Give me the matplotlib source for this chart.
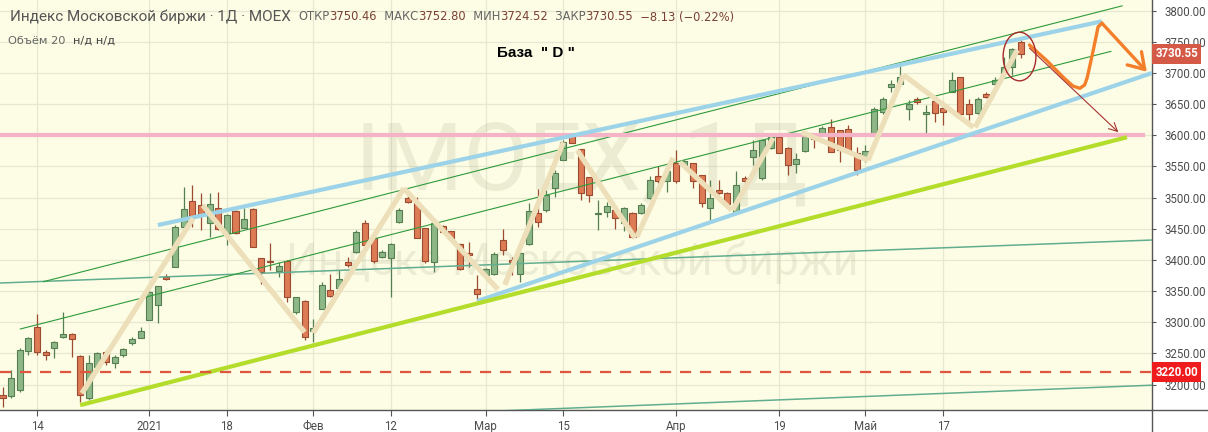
import matplotlib
matplotlib.use("Agg")
import matplotlib.pyplot as plt
import matplotlib.transforms as mtransforms
from matplotlib.patches import Ellipse, FancyArrowPatch
from matplotlib.lines import Line2D
import numpy as np

plt.rcParams['font.family'] = ['Roboto', 'DejaVu Sans']

# ---------------- data (daily candles, IMOEX) ----------------
opens = [3183, 3182, 3192, 3254, 3292, 3252, 3258, 3276, 3281, 3246,
         3178, 3229, 3252, 3234, 3247, 3267, 3274, 3304, 3328, 3373,
         3388, 3453, 3495, 3488, 3460, 3484, 3443, 3478, 3452, 3481,
         3403, 3398, 3383, 3398, 3317, 3334, 3286, 3322, 3352, 3355,
         3396, 3412, 3460, 3435, 3404, 3403, 3461, 3500, 3491, 3451,
         3397, 3454, 3446, 3426, 3411, 3353, 3376, 3378, 3432, 3400,
         3377, 3425, 3476, 3480, 3515, 3561, 3599, 3578, 3533, 3473,
         3477, 3480, 3459, 3476, 3475, 3499, 3534, 3526, 3556, 3552,
         3555, 3536, 3483, 3512, 3508, 3477, 3532, 3566, 3531, 3579,
         3598, 3580, 3554, 3575, 3597, 3603, 3614, 3609, 3610, 3572,
         3563, 3603, 3638, 3678, 3683, 3643, 3658, 3634, 3655, 3644,
         3670, 3693, 3650, 3636, 3666, 3682, 3700, 3709, 3750.46]
highs = [3196, 3223, 3258, 3277, 3313, 3255, 3270, 3317, 3282, 3247,
         3247, 3253, 3255, 3247, 3259, 3277, 3293, 3352, 3359, 3378,
         3456, 3517, 3520, 3507, 3507, 3509, 3473, 3480, 3483, 3483,
         3403, 3427, 3397, 3400, 3341, 3335, 3306, 3365, 3378, 3384,
         3405, 3448, 3464, 3445, 3416, 3427, 3483, 3504, 3501, 3451,
         3460, 3456, 3447, 3426, 3429, 3376, 3387, 3413, 3449, 3405,
         3412, 3491, 3514, 3512, 3544, 3592, 3603, 3578, 3533, 3496,
         3493, 3481, 3485, 3477, 3491, 3534, 3550, 3543, 3576, 3561,
         3556, 3537, 3528, 3528, 3509, 3542, 3534, 3592, 3593, 3603,
         3603, 3581, 3571, 3601, 3603, 3615, 3626, 3609, 3617, 3582,
         3584, 3645, 3662, 3689, 3713, 3657, 3661, 3649, 3656, 3654,
         3702, 3694, 3658, 3662, 3670, 3693, 3726, 3740, 3752.80]
lows = [3164, 3179, 3188, 3247, 3247, 3239, 3242, 3275, 3245, 3172,
        3175, 3228, 3231, 3226, 3245, 3263, 3274, 3303, 3299, 3368,
        3388, 3453, 3453, 3448, 3437, 3448, 3424, 3442, 3451, 3420,
        3362, 3384, 3373, 3333, 3314, 3271, 3269, 3322, 3341, 3354,
        3389, 3411, 3424, 3395, 3403, 3341, 3460, 3491, 3435, 3395,
        3380, 3444, 3432, 3384, 3389, 3336, 3373, 3376, 3408, 3376,
        3365, 3424, 3453, 3477, 3501, 3560, 3587, 3497, 3493, 3448,
        3469, 3449, 3447, 3436, 3473, 3498, 3524, 3509, 3524, 3551,
        3515, 3485, 3461, 3506, 3488, 3476, 3524, 3552, 3528, 3578,
        3571, 3536, 3539, 3574, 3579, 3600, 3573, 3558, 3574, 3536,
        3558, 3600, 3635, 3670, 3683, 3625, 3651, 3603, 3622, 3617,
        3669, 3633, 3625, 3635, 3660, 3681, 3694, 3697, 3724.52]
closes = [3178, 3210, 3256, 3274, 3253, 3247, 3268, 3281, 3273, 3184,
          3234, 3250, 3236, 3245, 3257, 3273, 3286, 3349, 3358, 3369,
          3453, 3481, 3470, 3472, 3490, 3449, 3472, 3444, 3465, 3421,
          3381, 3396, 3390, 3341, 3340, 3276, 3290, 3360, 3342, 3370,
          3392, 3445, 3424, 3398, 3413, 3426, 3480, 3493, 3436, 3399,
          3459, 3445, 3433, 3385, 3408, 3345, 3385, 3409, 3416, 3396,
          3411, 3478, 3461, 3505, 3539, 3590, 3588, 3507, 3504, 3475,
          3487, 3467, 3484, 3437, 3489, 3528, 3526, 3542, 3526, 3559,
          3526, 3492, 3499, 3508, 3490, 3521, 3526, 3576, 3592, 3598,
          3572, 3552, 3562, 3600, 3594, 3611, 3574, 3576, 3575, 3544,
          3575, 3643, 3658, 3682, 3694, 3651, 3653, 3637, 3636, 3638,
          3689, 3634, 3635, 3659, 3662, 3689, 3710, 3738, 3730.55]

tick_pos = [4, 17, 26, 36, 45, 56, 65, 78, 90, 100, 109]
tick_labels = ['14', '2021', '18', 'Фев', '12', 'Мар', '15', 'Апр', '19', 'Май', '17']
price_ticks = [3200, 3250, 3300, 3350, 3400, 3450, 3500, 3550, 3600, 3650, 3700, 3750, 3800]

last_close = 3730.55
level_support = 3220.00
level_pink = 3600.00

# drawn trend lines: (x0, p0, x1, p1) in bar index / price
upper_blue = (18.0, 3456, 127.4, 3783)
lower_blue = (55.0, 3334, 133.2, 3700)
green_base = (9.0, 3167, 130.3, 3597)
thin_green_1 = (4.7, 3365, 129.8, 3808)
thin_green_2 = (2.0, 3289, 128.5, 3735)
teal_1 = (-0.3, 3363, 133.2, 3432)
teal_2 = (50.7, 3154, 133.2, 3199)
pink_span = (-0.3, 132.2)

zigzag = [
    (9.2, 3186, 22.1, 3467),
    (23.2, 3488, 35.0, 3284),
    (36.0, 3283, 46.5, 3515),
    (46.5, 3515, 57.4, 3353),
    (58.2, 3360, 65.0, 3589),
    (66.6, 3576, 73.3, 3435),
    (73.5, 3437, 77.7, 3564),
    (78.5, 3557, 84.5, 3480),
    (84.6, 3480, 89.3, 3596),
    (92.6, 3605, 100.3, 3560),
    (100.3, 3560, 104.4, 3697),
    (104.4, 3697, 112.5, 3613),
    (112.7, 3613, 117.6, 3737),
]

orange_x = [119.0, 121.0, 123.0, 124.05, 124.85, 125.4, 125.7, 126.4, 126.95, 127.4]
orange_p = [3745, 3720, 3692, 3679, 3675.5, 3681, 3693, 3737, 3774, 3780]
orange_tip = (132.6, 3702)
red_arrow = (119.0, 3740, 129.3, 3605)
ellipse_c = (117.85, 3726.5)
ellipse_wh = (3.8, 78)

# ---------------- figure ----------------
W, H = 1208, 432
fig = plt.figure(figsize=(W / 100, H / 100), dpi=100, facecolor='white')
ax = fig.add_axes([0, 22 / H, 1152 / W, 410 / H])
ax.set_facecolor('#fcfde4')
ax.set_xlim(-0.29, 133.2)
ax.set_ylim(3159.2, 3817.2)

grid_c = '#e6e9cf'
for t in tick_pos:
    ax.axvline(t, color=grid_c, lw=0.9, zorder=0)
for p in price_ticks:
    ax.axhline(p, color=grid_c, lw=0.9, zorder=0)

# watermark
ax.text(0.505, 0.60, 'IMOEX, 1Д', transform=ax.transAxes, ha='center', va='center',
        fontsize=68, color='#7f7f60', alpha=0.13, zorder=0.5)
ax.text(0.497, 0.36, 'Индекс Московской биржи', transform=ax.transAxes, ha='center',
        va='center', fontsize=32, color='#7f7f60', alpha=0.13, zorder=0.5)

# candles
x = np.arange(len(opens))
o = np.array(opens, float); c = np.array(closes, float)
h = np.array(highs, float); l = np.array(lows, float)
up = c >= o
g_fill, g_edge = '#8db786', '#557f52'
r_fill, r_edge = '#dc7b54', '#9a4b31'
ax.vlines(x[up], l[up], h[up], color=g_edge, lw=0.9, zorder=2)
ax.vlines(x[~up], l[~up], h[~up], color=r_edge, lw=0.9, zorder=2)
body_h = np.maximum(np.abs(c - o), 1.2)
ax.bar(x[up], body_h[up], bottom=np.minimum(o, c)[up], width=0.7,
       color=g_fill, edgecolor=g_edge, linewidth=0.8, zorder=3)
ax.bar(x[~up], body_h[~up], bottom=np.minimum(o, c)[~up], width=0.7,
       color=r_fill, edgecolor=r_edge, linewidth=0.8, zorder=3)


def seg(line, **kw):
    x0, p0, x1, p1 = line
    ax.plot([x0, x1], [p0, p1], solid_capstyle='butt', **kw)


seg(teal_1, color='#62ad8f', lw=1.1, zorder=4)
seg(teal_2, color='#62ad8f', lw=1.1, zorder=4)
seg(thin_green_1, color='#2f9a3c', lw=0.8, zorder=4)
seg(thin_green_2, color='#2f9a3c', lw=0.8, zorder=4)
ax.plot(pink_span, [level_pink, level_pink], color='#f4b3c6', lw=3.0, zorder=4)
seg(upper_blue, color='#9dd3e8', lw=3.0, zorder=4)
seg(lower_blue, color='#9dd3e8', lw=3.0, zorder=4)
seg(green_base, color='#b3dd2a', lw=3.0, zorder=4)
ax.axhline(level_support, color='#e0553d', lw=1.6, ls=(0, (5, 4)), zorder=4)

for zz in zigzag:
    seg(zz, color='#ecdfb9', lw=3.8, zorder=5)

# orange forecast
ax.plot(orange_x, orange_p, color='#f47f2b', lw=2.4, zorder=6, solid_capstyle='round',
        solid_joinstyle='round')
ax.add_patch(FancyArrowPatch((orange_x[-1], orange_p[-1]), orange_tip,
                             arrowstyle='->,head_length=0.55,head_width=0.35',
                             color='#f47f2b', lw=2.4, mutation_scale=20, zorder=6,
                             shrinkA=0, shrinkB=0))
ax.add_patch(FancyArrowPatch(red_arrow[:2], red_arrow[2:],
                             arrowstyle='->,head_length=0.5,head_width=0.25',
                             color='#a83232', lw=0.8, mutation_scale=12, zorder=6,
                             shrinkA=0, shrinkB=0))
ax.add_patch(Ellipse(ellipse_c, ellipse_wh[0], ellipse_wh[1], fill=False,
                     edgecolor='#a82a2a', lw=1.0, zorder=7))

# axes styling
for s in ['left', 'top']:
    ax.spines[s].set_visible(False)
for s in ['right', 'bottom']:
    ax.spines[s].set_color('#555555')
    ax.spines[s].set_linewidth(1.0)
ax.yaxis.tick_right()
ax.set_yticks(price_ticks)
ax.set_yticklabels([f'{p:.2f}' for p in price_ticks])
ax.set_xticks(tick_pos)
ax.set_xticklabels(tick_labels)
ax.tick_params(axis='y', length=3, width=0.8, color='#555555', pad=6,
               labelsize=8.3, labelcolor='#4d4d4d')
ax.tick_params(axis='x', length=4, width=0.8, color='#555555', pad=3,
               labelsize=8.3, labelcolor='#4d4d4d')

blend = mtransforms.blended_transform_factory(ax.transAxes, ax.transData)
ax.text(1.003, last_close, f'{last_close:.2f}', transform=blend, ha='left', va='center',
        color='white', fontsize=8.3, fontweight='bold', zorder=20, clip_on=False,
        bbox=dict(boxstyle='square,pad=0.28', fc='#d45a47', ec='none'))
ax.text(1.003, level_support, f'{level_support:.2f}', transform=blend, ha='left', va='center',
        color='white', fontsize=8.3, fontweight='bold', zorder=20, clip_on=False,
        bbox=dict(boxstyle='square,pad=0.28', fc='#ee1c1c', ec='none'))

# extra axis lines outside plot
fig.add_artist(Line2D([1152 / W, 1], [22 / H, 22 / H], color='#555555', lw=1.0))
fig.add_artist(Line2D([1152 / W, 1152 / W], [0, 22 / H], color='#555555', lw=1.0))

# header
renderer = fig.canvas.get_renderer()


def flow(x0, y0, parts):
    xx = x0
    for s, kw in parts:
        t = fig.text(xx / W, 1 - y0 / H, s, ha='left', va='center', **kw)
        xx += t.get_window_extent(renderer).width


dv = ['DejaVu Sans']
lab = dict(fontsize=8.3, color='#666666', family=dv)
val = dict(fontsize=8.3, color='#7a4034', family=dv)
flow(10, 17, [('Индекс Московской биржи · 1Д · MOEX', dict(fontsize=11, color='#555555')),
              ('  ', lab),
              ('ОТКР', lab), ('3750.46', val), ('  МАКС', lab), ('3752.80', val),
              ('  МИН', lab), ('3724.52', val), ('  ЗАКР', lab), ('3730.55', val),
              ('  −8.13 (−0.22%)', val)])
flow(8, 41, [('Объём 20  ', dict(fontsize=8.2, color='#666666', family=dv)),
             ('н/д н/д', dict(fontsize=8.2, color='#444444', family=dv))])

fig.text(497 / W, 1 - 53 / H, 'База  " D "', ha='left', va='center', fontsize=11,
         fontweight='bold', color='black', family=['Liberation Sans', 'DejaVu Sans'])

fig.savefig('out.png', dpi=100, facecolor='white')
